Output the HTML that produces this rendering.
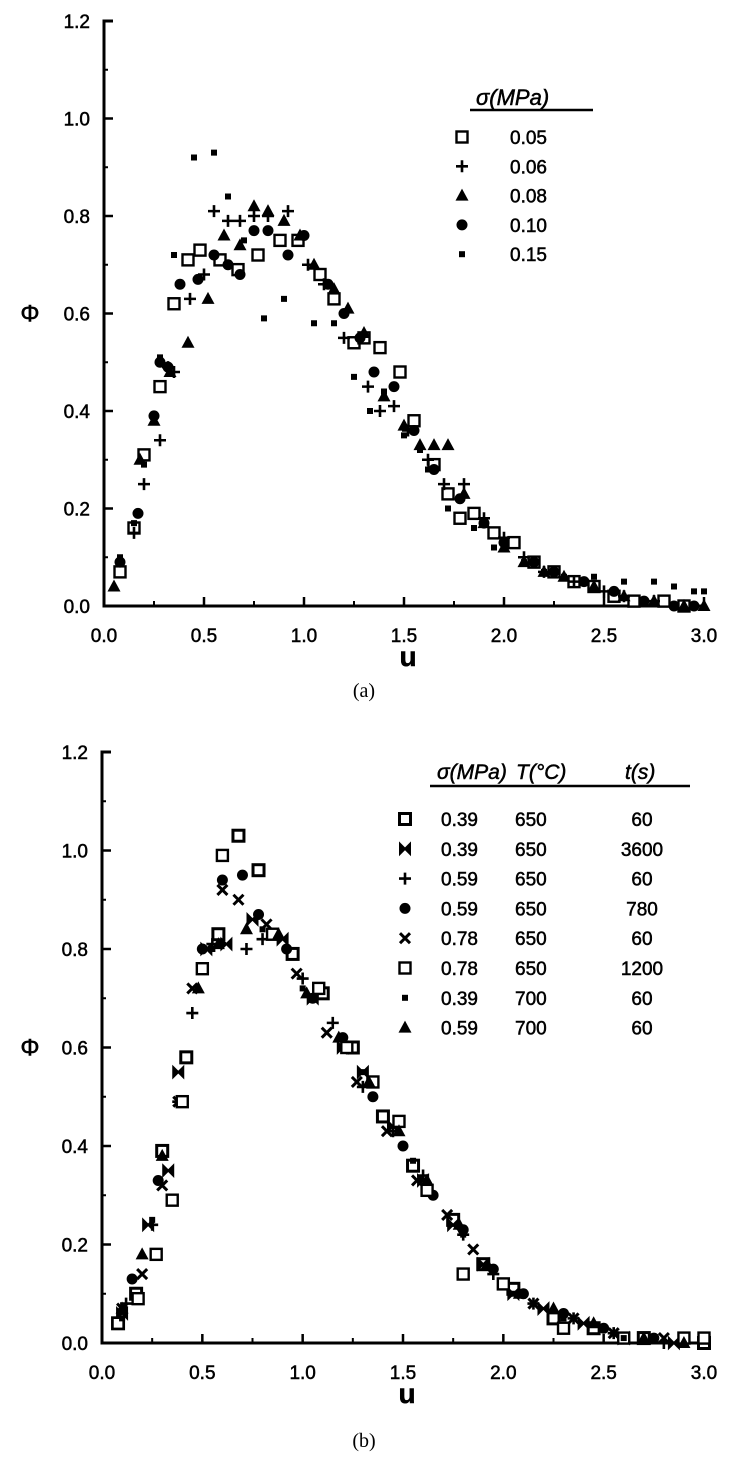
<!DOCTYPE html>
<html><head><meta charset="utf-8"><style>
body{margin:0;background:#fff;}
svg{display:block;font-family:"Liberation Sans",sans-serif;}
</style></head><body>
<svg id="s" width="729" height="1464" viewBox="0 0 729 1464"></svg>
<script>
const uTicks=["0.0","0.5","1.0","1.5","2.0","2.5","3.0"];
const phiTicks=["0.0","0.2","0.4","0.6","0.8","1.0","1.2"];
// Panel (a) series: [u, phi]
const aSq=[[0.08,0.07],[0.15,0.16],[0.2,0.31],[0.28,0.45],[0.35,0.62],[0.42,0.71],[0.48,0.73],[0.58,0.71],[0.67,0.69],[0.77,0.72],[0.88,0.75],[0.97,0.75],[1.08,0.68],[1.15,0.63],[1.25,0.54],[1.3,0.55],[1.38,0.53],[1.48,0.48],[1.55,0.38],[1.65,0.29],[1.72,0.23],[1.78,0.18],[1.85,0.19],[1.95,0.15],[2.05,0.13],[2.15,0.09],[2.25,0.07],[2.35,0.05],[2.45,0.04],[2.55,0.02],[2.65,0.01],[2.8,0.01],[2.9,0.0]];
const aPlus=[[0.15,0.15],[0.2,0.25],[0.28,0.34],[0.32,0.49],[0.35,0.48],[0.43,0.63],[0.5,0.68],[0.55,0.81],[0.62,0.79],[0.68,0.79],[0.75,0.8],[0.82,0.8],[0.92,0.81],[1.02,0.7],[1.1,0.66],[1.2,0.55],[1.32,0.45],[1.38,0.4],[1.45,0.41],[1.52,0.36],[1.62,0.3],[1.7,0.25],[1.8,0.25],[1.9,0.18],[2.0,0.14],[2.1,0.1],[2.2,0.07],[2.35,0.05],[2.5,0.03],[2.6,0.02],[2.75,0.01]];
const aTri=[[0.05,0.04],[0.18,0.3],[0.25,0.38],[0.33,0.48],[0.42,0.54],[0.52,0.63],[0.6,0.76],[0.68,0.74],[0.75,0.82],[0.82,0.81],[0.9,0.79],[0.98,0.76],[1.05,0.7],[1.15,0.65],[1.22,0.61],[1.3,0.56],[1.4,0.43],[1.5,0.37],[1.58,0.33],[1.65,0.33],[1.72,0.33],[1.8,0.23],[1.9,0.17],[2.0,0.12],[2.1,0.09],[2.2,0.07],[2.3,0.06],[2.45,0.04],[2.6,0.02],[2.75,0.01],[2.9,0.0],[3.0,0.0]];
const aDia=[[0.08,0.09],[0.17,0.19],[0.25,0.39],[0.28,0.5],[0.32,0.49],[0.38,0.66],[0.47,0.67],[0.55,0.72],[0.62,0.7],[0.68,0.68],[0.75,0.77],[0.82,0.77],[0.92,0.72],[1.0,0.76],[1.12,0.66],[1.2,0.6],[1.28,0.55],[1.35,0.48],[1.45,0.45],[1.55,0.36],[1.65,0.28],[1.78,0.22],[1.9,0.17],[2.0,0.13],[2.15,0.09],[2.25,0.07],[2.4,0.05],[2.55,0.03],[2.7,0.01],[2.85,0.0],[2.95,0.0]];
const aDot=[[0.08,0.1],[0.15,0.17],[0.2,0.29],[0.28,0.51],[0.35,0.72],[0.45,0.92],[0.55,0.93],[0.62,0.84],[0.7,0.75],[0.8,0.59],[0.9,0.63],[1.05,0.58],[1.15,0.58],[1.25,0.47],[1.33,0.4],[1.4,0.44],[1.5,0.35],[1.58,0.32],[1.62,0.28],[1.72,0.2],[1.85,0.16],[1.95,0.12],[2.1,0.09],[2.2,0.07],[2.3,0.06],[2.45,0.06],[2.6,0.05],[2.75,0.05],[2.85,0.04],[2.95,0.03],[3.0,0.03]];
// Panel (b) series
const bSqDot=[[0.08,0.04],[0.17,0.1],[0.3,0.39],[0.42,0.58],[0.58,0.83],[0.68,1.03],[0.78,0.96],[0.95,0.79],[1.1,0.71],[1.25,0.6],[1.4,0.46],[1.55,0.36],[1.75,0.25],[1.9,0.16],[2.05,0.11],[2.25,0.05],[2.45,0.03],[2.7,0.01],[3.0,0.0]];
const bBow=[[0.1,0.06],[0.23,0.24],[0.33,0.35],[0.38,0.55],[0.52,0.8],[0.62,0.81],[0.75,0.86],[0.9,0.82],[1.05,0.7],[1.2,0.6],[1.3,0.55],[1.45,0.44],[1.6,0.33],[1.75,0.24],[1.9,0.16],[2.05,0.1],[2.2,0.07],[2.4,0.04],[2.6,0.01],[2.85,0.0]];
const bPlus=[[0.12,0.08],[0.25,0.24],[0.38,0.49],[0.45,0.67],[0.55,0.81],[0.72,0.8],[0.8,0.82],[1.0,0.74],[1.15,0.65],[1.3,0.52],[1.45,0.43],[1.6,0.34],[1.8,0.22],[1.95,0.14],[2.15,0.08],[2.35,0.05],[2.55,0.02],[2.8,0.0]];
const bDia=[[0.15,0.13],[0.28,0.33],[0.5,0.8],[0.6,0.94],[0.7,0.95],[0.78,0.87],[0.92,0.8],[1.05,0.7],[1.2,0.62],[1.35,0.5],[1.5,0.4],[1.65,0.3],[1.8,0.23],[1.95,0.15],[2.1,0.1],[2.3,0.06],[2.5,0.03],[2.75,0.01]];
const bX=[[0.1,0.07],[0.2,0.14],[0.3,0.32],[0.38,0.49],[0.45,0.72],[0.6,0.92],[0.68,0.9],[0.82,0.85],[0.97,0.75],[1.12,0.63],[1.27,0.53],[1.42,0.43],[1.57,0.33],[1.72,0.26],[1.85,0.19],[2.0,0.12],[2.15,0.08],[2.35,0.05],[2.55,0.02],[2.8,0.01]];
const bSq=[[0.08,0.04],[0.18,0.09],[0.27,0.18],[0.35,0.29],[0.4,0.49],[0.5,0.76],[0.6,0.99],[0.85,0.83],[1.08,0.72],[1.22,0.6],[1.35,0.53],[1.48,0.45],[1.62,0.31],[1.8,0.14],[2.0,0.12],[2.3,0.03],[2.6,0.01],[2.9,0.01],[3.0,0.01]];
const bDot=[[0.1,0.05],[0.25,0.25],[0.55,0.8],[0.8,0.84],[1.0,0.72],[1.3,0.55],[1.55,0.37],[1.8,0.22],[2.05,0.1],[2.3,0.05],[2.6,0.01]];
const bTri=[[0.1,0.07],[0.2,0.18],[0.3,0.38],[0.48,0.72],[0.58,0.81],[0.72,0.84],[0.88,0.83],[1.02,0.71],[1.18,0.62],[1.33,0.53],[1.48,0.43],[1.62,0.33],[1.78,0.24],[1.92,0.16],[2.08,0.1],[2.25,0.07],[2.45,0.04],[2.7,0.01],[2.9,0.0]];
const legA=["0.05","0.06","0.08","0.10","0.15"];
const legB=[["0.39","650","60"],["0.39","650","3600"],["0.59","650","60"],["0.59","650","780"],["0.78","650","60"],["0.78","650","1200"],["0.39","700","60"],["0.59","700","60"]];

const NS="http://www.w3.org/2000/svg";
const svg=document.getElementById('s');
function el(t,a,p){const e=document.createElementNS(NS,t);for(const k in a)e.setAttribute(k,a[k]);(p||svg).appendChild(e);return e;}
function txt(x,y,s,a,p){const e=el('text',Object.assign({x:x,y:y,'font-size':19,fill:'#000',stroke:'#000','stroke-width':0.5},a||{}),p);e.textContent=s;return e;}
function marker(g,sh,x,y){
  let e;
  if(sh==='sq'){e=el('rect',{x:x-5.5,y:y-5.5,width:11,height:11,fill:'#fff',stroke:'#000','stroke-width':2.4},g);}
  else if(sh==='sqdot'){e=el('rect',{x:x-5.5,y:y-5.5,width:11,height:11,fill:'#fff',stroke:'#000','stroke-width':3},g);}
  else if(sh==='plus'){e=el('path',{d:`M${x-6} ${y}H${x+6}M${x} ${y-6}V${y+6}`,stroke:'#000','stroke-width':2.6},g);}
  else if(sh==='tri'){e=el('path',{d:`M${x} ${y-7}L${x+6.5} ${y+5}L${x-6.5} ${y+5}Z`,fill:'#000'},g);}
  else if(sh==='dia'){e=el('circle',{cx:x,cy:y,r:5.5,fill:'#000'},g);}
  else if(sh==='dot'){e=el('rect',{x:x-3,y:y-3,width:6,height:6,fill:'#000'},g);}
  else if(sh==='x'){e=el('path',{d:`M${x-5} ${y-5}L${x+5} ${y+5}M${x+5} ${y-5}L${x-5} ${y+5}`,stroke:'#000','stroke-width':3},g);}
  else if(sh==='bow'){e=el('path',{d:`M${x-5} ${y-5}L${x+5} ${y+5}V${y-5}L${x-5} ${y+5}Z`,fill:'#000',stroke:'#000','stroke-width':2},g);}
  
  
  return e;
}
function panel(name,x0,xw,y0,yh,series){
  const xs=u=>x0+u/3*xw, ys=p=>y0-p/1.2*yh;
  const g=el('g',{});
  
  
  const ax=el('path',{d:`M${x0+9} ${ys(1.2)}H${x0}V${y0}H${x0+xw}`,fill:'none',stroke:'#000','stroke-width':3},g);
  
  
  for(let i=0;i<phiTicks.length;i++){
    const v=+phiTicks[i],y=ys(v);
    el('line',{x1:x0,x2:x0+9,y1:y,y2:y,stroke:'#000','stroke-width':2.5},g);
    if(i<6)el('line',{x1:x0,x2:x0+4,y1:ys(v+0.1),y2:ys(v+0.1),stroke:'#000','stroke-width':2},g);
    const t=txt(x0-14,y+7,phiTicks[i],{'text-anchor':'end'},g);
    
    
  }
  for(let i=0;i<uTicks.length;i++){
    const v=+uTicks[i],x=xs(v);
    el('line',{x1:x,x2:x,y1:y0,y2:y0-9,stroke:'#000','stroke-width':2.5},g);
    if(i<6)el('line',{x1:xs(v+0.25),x2:xs(v+0.25),y1:y0,y2:y0-5,stroke:'#000','stroke-width':2},g);
    const t=txt(x,y0+36,uTicks[i],{'text-anchor':'middle'},g);
    
    
  }
  const yl=txt(30,ys(0.6)+8,'Φ',{'font-size':24,'text-anchor':'middle'},g);
  
  
  const xl=txt(xs(1.5)+4,y0+60,'u',{'font-size':28,'font-weight':'bold','text-anchor':'middle'},g);
  
  
  for(const s of series){
    const sg=el('g',{},g);
    
    
    for(const p of s[1])marker(sg,s[0],xs(p[0]),ys(p[1]));
  }
  return g;
}
panel('panel-a-chart',104,600,606,585,[['sq',aSq],['plus',aPlus],['tri',aTri],['dia',aDia],['dot',aDot]]);
panel('panel-b-chart',102,602,1343,591,[['sqdot',bSqDot],['bow',bBow],['plus',bPlus],['dia',bDia],['x',bX],['sq',bSq],['dot',bDot],['tri',bTri]]);

// Legend a
const la=el('g',{});


txt(476,105,'σ(MPa)',{'font-size':22,'font-style':'italic'},la);
el('line',{x1:470,x2:593,y1:110,y2:110,stroke:'#000','stroke-width':2.5},la);
const shA=['sq','plus','tri','dia','dot'];
legA.forEach((s,i)=>{const y=137+i*29.3;marker(la,shA[i],462,y);
  const t=txt(510,y+7,s,{},la);
  
  });
// Legend b
const lb=el('g',{});


txt(437,779,'σ(MPa)',{'font-size':21,'font-style':'italic'},lb);
txt(516,779,'T(°C)',{'font-size':21,'font-style':'italic'},lb);
txt(625,779,'t(s)',{'font-size':21,'font-style':'italic'},lb);
el('line',{x1:430,x2:690,y1:786,y2:786,stroke:'#000','stroke-width':2.5},lb);
const shB=['sqdot','bow','plus','dia','x','sq','dot','tri'];
legB.forEach((r,i)=>{const y=819+i*29.8;marker(lb,shB[i],405,y);
  const t1=txt(441,y+7,r[0],{},lb);
  
  
  txt(515,y+7,r[1],{},lb);
  txt(642,y+7,r[2],{'text-anchor':'middle'},lb);});
const ca=txt(364,697,'(a)',{'font-family':'Liberation Serif','font-size':20,'text-anchor':'middle','stroke-width':0});


const cb=txt(364,1447,'(b)',{'font-family':'Liberation Serif','font-size':20,'text-anchor':'middle','stroke-width':0});


</script>
</body></html>
